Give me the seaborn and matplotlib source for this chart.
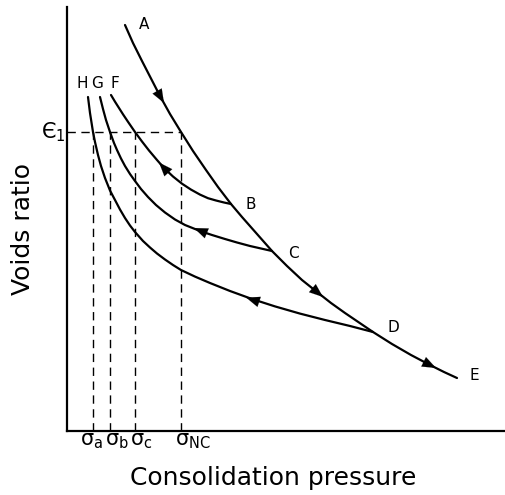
import numpy as np
import pandas as pd
import matplotlib
matplotlib.use("Agg")
import matplotlib.pyplot as plt
import seaborn as sns

# ---- data (arbitrary units) ----
ncl_x = [58, 66, 75, 84, 93, 103, 114, 126, 139, 151, 164, 175, 190, 205, 220,
         235, 250, 264, 278, 292, 306, 325, 344, 363, 377, 390]
ncl_y = [406, 388, 370, 352.5, 335, 317, 299, 280, 261, 244, 227, 214, 197, 180, 165,
         151, 139, 128, 118, 108.5, 99, 87, 76, 66, 59, 53]

f_x = [44, 48, 52, 56, 61, 68, 75, 82, 90, 97, 106, 115, 124, 133, 141, 149, 157, 164]
f_y = [336, 329.3, 323, 316.7, 309.2, 299, 289.5, 280.5, 271, 263, 254.5, 247.3,
       241.4, 236.4, 232.8, 230.5, 228.5, 227]

g_x = [33, 36, 39, 43, 47, 50, 54, 58, 63, 68, 74, 81, 89, 98, 108, 118, 133, 145,
       158, 170, 183, 194, 205]
g_y = [334, 322, 311, 299, 288, 281, 272.5, 265, 257, 250, 242, 234, 226, 218.5,
       211.5, 206, 200, 196, 192, 188.5, 185, 182.5, 180]

h_x = [21, 23, 26, 28, 31, 34, 38, 43, 48, 53, 58, 63, 68, 76, 83, 90, 98, 106, 114,
       128, 143, 163, 185, 208, 233, 258, 283, 306]
h_y = [334, 318, 299, 289, 276, 265, 253, 240.5, 231, 221.5, 213, 205.5, 199, 190,
       183.5, 177.5, 171.5, 166, 161, 154.4, 148, 140, 132, 124.6, 117.4, 111, 105, 99]

e1 = 299
sigma_x = [26, 43, 68, 114]
sigma_labels = ["σ$_\\mathrm{a}$", "σ$_\\mathrm{b}$", "σ$_\\mathrm{c}$", "σ$_\\mathrm{NC}$"]
sigma_label_x = [13, 38, 63, 108]

# arrows: (tail_x, tail_y, head_x, head_y)
arrows = [
    (89, 342, 97, 328),
    (244, 144, 256, 134),
    (357, 69, 369, 63),
    (102, 257.5, 92, 268.5),
    (139, 198, 127, 203),
    (191, 129.5, 179, 133.5),
]

point_labels = ["A", "B", "C", "D", "E", "F", "G", "H"]
point_label_x = [77, 184, 226, 326, 407, 48, 30, 15]
point_label_y = [407, 227, 178, 104, 55, 348, 348, 348]

# ---- style ----
sns.set_style("white")
plt.rcParams["font.family"] = ["DejaVu Sans"]
plt.rcParams["mathtext.fontset"] = "dejavusans"
plt.rcParams["text.color"] = "black"

fig = plt.figure(figsize=(5.06, 4.95), dpi=100)
ax = fig.add_axes([67 / 506, (495 - 431) / 495, (506 - 67) / 506, (431 - 7) / 495])

for xs, ys in [(ncl_x, ncl_y), (f_x, f_y), (g_x, g_y), (h_x, h_y)]:
    df = pd.DataFrame({"p": xs, "e": ys})
    sns.lineplot(data=df, x="p", y="e", sort=False, color="black", lw=1.6, ax=ax)

# dashed construction lines
ax.plot([0, sigma_x[-1]], [e1, e1], color="black", lw=1.0, ls=(0, (6, 4)))
for sx in sigma_x:
    ax.plot([sx, sx], [0, e1], color="black", lw=1.0, ls=(0, (6, 4)))

# arrowheads
for tx, ty, hx, hy in arrows:
    ax.annotate("", xy=(hx, hy), xytext=(tx, ty),
                arrowprops=dict(arrowstyle="-|>,head_length=0.7,head_width=0.27",
                                color="black", lw=0.1, shrinkA=0, shrinkB=0,
                                mutation_scale=14))

for lab, lx, ly in zip(point_labels, point_label_x, point_label_y):
    ax.text(lx, ly, lab, fontsize=11, ha="center", va="center")

# sigma labels under axis
for lx, sl in zip(sigma_label_x, sigma_labels):
    ax.text(lx, -10, sl, fontsize=15, ha="left", va="center", clip_on=False)

ax.text(-14, e1, "Є$_\\mathrm{1}$", fontsize=15, ha="center", va="center", clip_on=False)

ax.set_xlim(0, 439)
ax.set_ylim(0, 424)
ax.set_xticks([])
ax.set_yticks([])
ax.set_xlabel("")
ax.set_ylabel("")
for s in ["top", "right"]:
    ax.spines[s].set_visible(False)
for s in ["left", "bottom"]:
    ax.spines[s].set_linewidth(1.6)
    ax.spines[s].set_color("black")

fig.text(273 / 506, 1 - 478 / 495, "Consolidation pressure", fontsize=18,
         ha="center", va="center")
fig.text(23 / 506, 1 - 229 / 495, "Voids ratio", fontsize=18, rotation=90,
         ha="center", va="center")

fig.savefig("out.png", dpi=100)
